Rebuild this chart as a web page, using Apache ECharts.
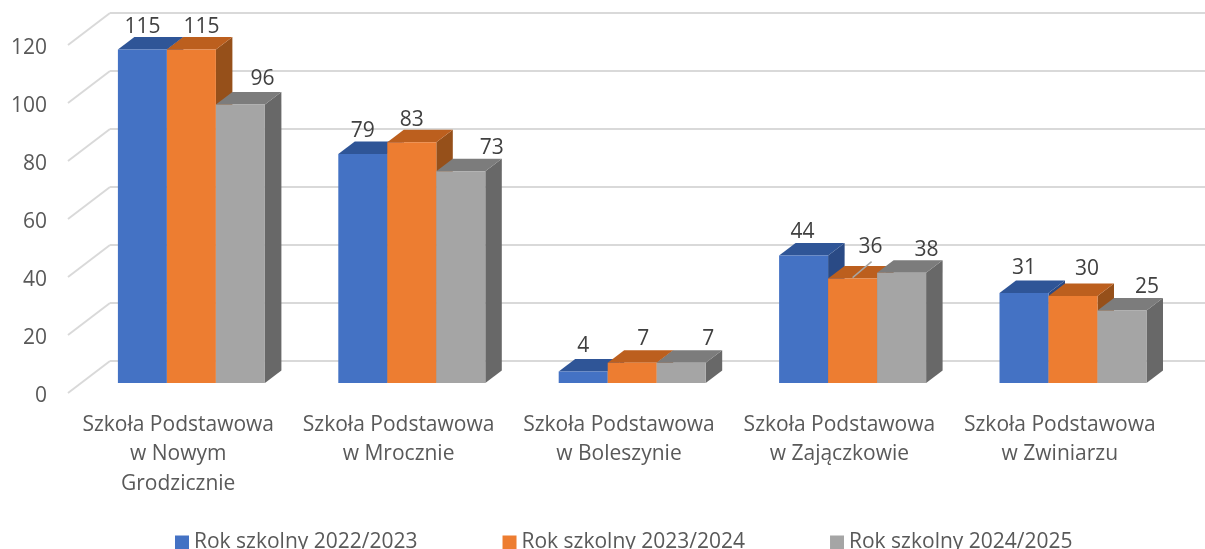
<!DOCTYPE html>
<html>
<head>
<meta charset="utf-8">
<style>
  html, body { margin: 0; padding: 0; background: #fff; }
  #chart { width: 1205px; height: 549px; }
</style>
<script src="https://cdn.jsdelivr.net/npm/echarts@6/dist/echarts.min.js"></script>
</head>
<body>
<div id="chart"></div>
<script>
var categories = [
  'Szkoła Podstawowa\nw Nowym\nGrodzicznie',
  'Szkoła Podstawowa\nw Mrocznie',
  'Szkoła Podstawowa\nw Boleszynie',
  'Szkoła Podstawowa\nw Zajączkowie',
  'Szkoła Podstawowa\nw Zwiniarzu'
]
var yTicks = [0, 20, 40, 60, 80, 100, 120]
var year2022 = [115, 79, 4, 44, 31]
var year2023 = [115, 83, 7, 36, 30]
var year2024 = [96, 73, 7, 38, 25]

// bars stand half way into the floor, so they are shifted from the front plane
var FONT = '"Open Sans", sans-serif'
var FONT_SIZE = 21
var BAR_W = 49
var DEPTH_X = 16.5
var DEPTH_Y = 12.5
var SHIFT_X = 13.2
var SHIFT_Y = 10
// hand placed data labels, [dx, dy] from the top middle of the bar front
var labelShift2022 = [[0, -22], [0, -23], [0, -25], [-1, -23], [0, -25]]
var labelShift2023 = [[10, -22], [0, -22], [11, -24], [18, -32], [14, -27]]
var labelShift2024 = [[22, -26], [31, -23], [27, -24], [25, -23], [25, -23]]

function barRender(slot, front, top, side, shifts) {
  return function(params, api) {
    var i = api.value(0)
    var v = api.value(1)
    var p = api.coord([i, v])
    var base = api.coord([i, 0])
    var x0 = p[0] + SHIFT_X + (slot - 1.5) * BAR_W
    var x1 = x0 + BAR_W
    var y0 = p[1] - SHIFT_Y
    var y1 = base[1] - SHIFT_Y
    var children = [
      { type: 'polygon', shape: { points: [[x1, y0], [x1 + DEPTH_X, y0 - DEPTH_Y], [x1 + DEPTH_X, y1 - DEPTH_Y], [x1, y1]] }, style: { fill: side }},
      { type: 'polygon', shape: { points: [[x0, y0], [x0 + DEPTH_X, y0 - DEPTH_Y], [x1 + DEPTH_X, y0 - DEPTH_Y], [x1, y0]] }, style: { fill: top }},
      { type: 'rect', shape: { x: x0, y: y0, width: BAR_W, height: y1 - y0 }, style: { fill: front }}
    ]
    var s = shifts[i]
    var cx = (x0 + x1) / 2
    children.push({
      type: 'text',
      style: {
        text: String(v), x: cx + s[0], y: y0 + s[1],
        align: 'center', verticalAlign: 'middle',
        fill: '#404040', font: FONT_SIZE + 'px ' + FONT
      }
    })
    // only the 36 label has a leader line
    if (s[1] < -30) {
      children.push({
        type: 'line',
        shape: { x1: cx, y1: y0 - 1, x2: cx + 19, y2: y0 - 17 },
        style: { stroke: '#a6a6a6', lineWidth: 1.5 }
      })
    }
    return { type: 'group', children: children }
  }
}

function barSeries(name, values, slot, front, top, side, shifts) {
  return {
    name: name,
    type: 'custom',
    xAxisIndex: 0,
    yAxisIndex: 0,
    clip: false,
    z: 3 + slot,
    itemStyle: { color: front },
    renderItem: barRender(slot, front, top, side, shifts),
    data: values.map(function(v, i) { return [i, v] })
  }
}

var chart = echarts.init(document.getElementById('chart'))
chart.setOption({
  animation: false,
  backgroundColor: '#fff',
  // 0 is the front edge of the floor, 1 is the back wall
  grid: [
    { left: 68, top: 45, width: 1102, height: 348 },
    { left: 110, top: 13, width: 1102, height: 348 }
  ],
  legend: {
    left: 175,
    top: 532,
    padding: 0,
    itemWidth: 14,
    itemHeight: 14,
    itemGap: 85,
    icon: 'rect',
    textStyle: { color: '#595959', fontFamily: FONT, fontSize: FONT_SIZE },
    data: ['Rok szkolny 2022/2023', 'Rok szkolny 2023/2024', 'Rok szkolny 2024/2025']
  },
  xAxis: [
    {
      type: 'category',
      gridIndex: 0,
      data: categories,
      axisLine: { show: false },
      axisTick: { show: false },
      axisLabel: {
        interval: 0,
        margin: 17,
        color: '#595959',
        fontFamily: FONT,
        fontSize: FONT_SIZE,
        lineHeight: 29.5
      }
    },
    {
      type: 'category',
      gridIndex: 1,
      data: categories,
      axisLine: { show: false },
      axisTick: { show: false },
      axisLabel: { show: false }
    }
  ],
  yAxis: [
    {
      type: 'value',
      gridIndex: 0,
      min: 0,
      max: 120,
      interval: 20,
      axisLine: { show: false },
      axisTick: { show: false },
      splitLine: { show: false },
      axisLabel: { margin: 21, color: '#595959', fontFamily: FONT, fontSize: FONT_SIZE, verticalAlign: 'top', lineHeight: 6 }
    },
    {
      type: 'value',
      gridIndex: 1,
      min: 0,
      max: 120,
      interval: 20,
      axisLine: { show: false },
      axisTick: { show: false },
      axisLabel: { show: false },
      splitLine: { lineStyle: { color: '#d9d9d9', width: 2 }}
    }
  ],
  series: [
    {
      type: 'custom',
      xAxisIndex: 0,
      yAxisIndex: 0,
      clip: false,
      z: 1,
      silent: true,
      // side wall lines going back from the labels to the wall grid
      renderItem: function(params, api) {
        var x = params.coordSys.x
        var y = api.coord([0, api.value(1)])[1]
        return {
          type: 'line',
          shape: { x1: x, y1: y, x2: x + 42, y2: y - 32 },
          style: { stroke: '#d9d9d9', lineWidth: 2 }
        }
      },
      data: yTicks.map(function(t) { return [0, t] })
    },
    barSeries('Rok szkolny 2022/2023', year2022, 0, '#4472c4', '#2f5597', '#2a4a85', labelShift2022),
    barSeries('Rok szkolny 2023/2024', year2023, 1, '#ed7d31', '#bc5f1e', '#96501a', labelShift2023),
    barSeries('Rok szkolny 2024/2025', year2024, 2, '#a5a5a5', '#7c7c7c', '#686868', labelShift2024)
  ]
})
</script>
</body>
</html>
